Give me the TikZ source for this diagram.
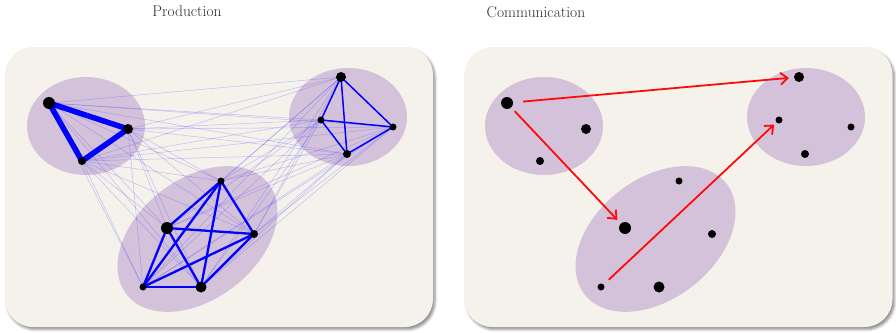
\documentclass[tikz,border=0pt]{standalone}
\usepackage{xcolor}
\usetikzlibrary{arrows.meta, positioning, shapes.geometric, shadows.blur}
\definecolor{PanelCream}{HTML}{F5F2EC}
\definecolor{ClusterLilac}{HTML}{D4C2DB}
\definecolor{TitleGray}{HTML}{2E2E2E}
\definecolor{LinkRed}{HTML}{FF0A0A}
\pgfdeclarelayer{background}
\pgfdeclarelayer{edges}
\pgfsetlayers{background,edges,main}

\begin{document}
\begin{tikzpicture}[
    x=1pt, y=-1pt,
    panel/.style={
        rectangle, rounded corners=28pt, fill=PanelCream,
        minimum width=428pt, minimum height=280pt, inner sep=0pt,
        blur shadow={shadow xshift=2pt, shadow yshift=-2.5pt,
                     shadow blur radius=2.5pt, shadow opacity=45}
    },
    cluster/.style={ellipse, fill=ClusterLilac, inner sep=0pt},
    vtx/.style={circle, fill=black, inner sep=0pt, minimum size=#1},
    vtx/.default=8pt,
    title/.style={font=\fontsize{15.5}{18}\selectfont, text=TitleGray},
    faint/.style={blue!80, opacity=0.28, line width=0.5pt},
    tieA/.style={blue, line width=5.5pt, line join=round},
    tieB/.style={blue, line width=1.5pt},
    tieC/.style={blue, line width=2.3pt},
    send/.style={-{Straight Barb[length=7pt, width=12pt, line width=1.8pt]},
        LinkRed, line width=1.8pt, shorten <=5pt, shorten >=5pt}
]

% empty bounding box of the reference size
\useasboundingbox (0,0) rectangle (896,332);

\node[title] (prodtitle) at (187,11) {Production};
\node[title] (commtitle) at (536,12) {Communication};

% panels and clusters
\begin{pgfonlayer}{background}
\node[panel] (prodpanel) at (219,187) {};
\node[panel] (commpanel) at (678.5,187) {};
\foreach \dx/\p in {0/, 458/r} {
    \node[cluster, minimum width=118pt, minimum height=98pt]
        (\p clusA) at (86+\dx,126) {};
    \node[cluster, minimum width=118pt, minimum height=98pt]
        (\p clusB) at (348+\dx,117) {};
    \node[cluster, minimum width=180pt, minimum height=120pt, rotate=38]
        (\p clusC) at (197.5+\dx,239) {};
}
\end{pgfonlayer}

% vertices, same layout in both panels
\foreach \dx/\p in {0/, 458/r} {
    \node[vtx=12pt] (\p a1) at (49+\dx,103) {};
    \node[vtx=10pt] (\p a2) at (128+\dx,129) {};
    \node[vtx=8pt]  (\p a3) at (82+\dx,161) {};
    \node[vtx=10pt] (\p b1) at (341+\dx,77) {};
    \node[vtx=7pt]  (\p b2) at (321+\dx,120) {};
    \node[vtx=7pt]  (\p b3) at (393+\dx,127) {};
    \node[vtx=8pt]  (\p b4) at (347+\dx,154) {};
    \node[vtx=7pt]  (\p c1) at (221+\dx,181) {};
    \node[vtx=12pt] (\p c2) at (167+\dx,228) {};
    \node[vtx=8pt]  (\p c3) at (254+\dx,234) {};
    \node[vtx=7pt]  (\p c4) at (143+\dx,287) {};
    \node[vtx=11pt] (\p c5) at (201+\dx,287) {};
}

\begin{pgfonlayer}{edges}
% weak links between clusters
\foreach \u in {a1,a2,a3} {
    \foreach \v in {b1,b2,b3,b4,c1,c2,c3,c4,c5}
        \draw[faint] (\u.center) -- (\v.center);
}
\foreach \u in {b1,b2,b3,b4} {
    \foreach \v in {c1,c2,c3,c4,c5}
        \draw[faint] (\u.center) -- (\v.center);
}
% strong links inside clusters
\draw[tieA] (a1.center) -- (a2.center) -- (a3.center) -- cycle;
\foreach \u/\v in {b1/b2, b1/b3, b1/b4, b2/b3, b2/b4, b3/b4}
    \draw[tieB] (\u.center) -- (\v.center);
\foreach \u/\v in {c1/c2, c1/c3, c1/c4, c1/c5, c2/c3,
                   c2/c4, c2/c5, c3/c4, c3/c5, c4/c5}
    \draw[tieC] (\u.center) -- (\v.center);
\end{pgfonlayer}

% messages between clusters
\draw[send, shorten <=10pt] (ra1) -- (rb1);
\draw[send] (ra1) -- (rc2);
\draw[send, shorten <=7pt, shorten >=3pt] (rc4) -- (rb2);

\end{tikzpicture}
\end{document}
